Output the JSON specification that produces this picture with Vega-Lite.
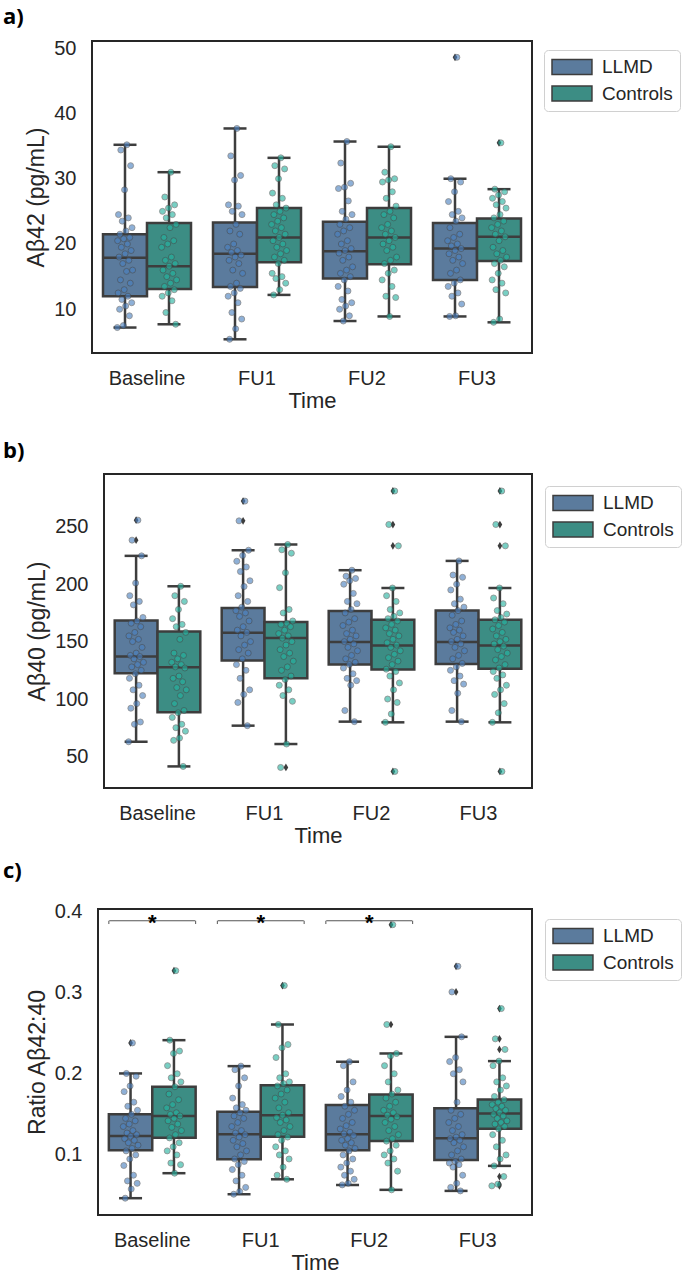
{
"$schema": "https://vega.github.io/schema/vega-lite/v6.json",
"padding": {"left": 1, "top": 5, "right": 0, "bottom": 0},
"background": "white",
"config": {
  "view": {"stroke": "#262626", "strokeWidth": 2},
  "font": "Liberation Sans",
  "axis": {"labelFont": "Liberation Sans", "labelFontSize": 20, "labelColor": "#262626", "titleFont": "Liberation Sans", "titleFontSize": 22, "titleFontWeight": "normal", "titleColor": "#262626", "ticks": false, "tickSize": 0, "domain": false, "grid": false},
  "axisX": {"labelAngle": 0, "labelPadding": 15, "titlePadding": 2},
  "axisY": {"labelPadding": 16, "titlePadding": 5, "titleFontSize": 23},
  "title": {"font": "Open Sans", "fontSize": 22, "fontWeight": "bold", "color": "#000000", "anchor": "start", "frame": "group"},
  "legend": {"title": null, "orient": "none", "symbolType": "M-1,-0.833H3.44V0.833H-1Z", "symbolSize": 324, "symbolStrokeColor": "#3d3d3d", "symbolStrokeWidth": 1.5, "labelFont": "Liberation Sans", "labelFontSize": 19, "labelColor": "#262626", "labelOffset": 31, "strokeColor": "#d0d0d0", "cornerRadius": 4, "padding": 7, "rowPadding": 4.5, "fillColor": "#ffffff", "symbolOpacity": 1}
},
"datasets": {
  "ba": [
    {"t":"Baseline","g":"LLMD","lo":7.2,"q1":12.0,"med":17.9,"q3":21.5,"hi":35.2},
    {"t":"Baseline","g":"Controls","lo":7.7,"q1":13.1,"med":16.6,"q3":23.2,"hi":31.0},
    {"t":"FU1","g":"LLMD","lo":5.4,"q1":13.4,"med":18.5,"q3":23.3,"hi":37.7},
    {"t":"FU1","g":"Controls","lo":12.2,"q1":17.2,"med":21.0,"q3":25.5,"hi":33.2},
    {"t":"FU2","g":"LLMD","lo":8.2,"q1":14.7,"med":18.9,"q3":23.4,"hi":35.7},
    {"t":"FU2","g":"Controls","lo":8.9,"q1":16.9,"med":21.0,"q3":25.5,"hi":34.9},
    {"t":"FU3","g":"LLMD","lo":8.9,"q1":14.5,"med":19.3,"q3":23.2,"hi":30.0},
    {"t":"FU3","g":"Controls","lo":8.0,"q1":17.4,"med":21.1,"q3":23.9,"hi":28.4}
  ],
  "oa": [
    {"t":"FU3","g":"LLMD","v":48.6},
    {"t":"FU3","g":"Controls","v":35.5}
  ],
  "bb": [
    {"t":"Baseline","g":"LLMD","lo":62.8,"q1":122.5,"med":137.0,"q3":168.5,"hi":224.7},
    {"t":"Baseline","g":"Controls","lo":41.3,"q1":88.4,"med":127.7,"q3":158.9,"hi":198.2},
    {"t":"FU1","g":"LLMD","lo":76.8,"q1":133.6,"med":157.7,"q3":179.3,"hi":229.6},
    {"t":"FU1","g":"Controls","lo":60.8,"q1":118.1,"med":153.1,"q3":167.0,"hi":234.6},
    {"t":"FU2","g":"LLMD","lo":80.3,"q1":130.1,"med":149.6,"q3":176.6,"hi":212.2},
    {"t":"FU2","g":"Controls","lo":79.7,"q1":125.7,"med":146.7,"q3":169.1,"hi":196.7},
    {"t":"FU3","g":"LLMD","lo":80.3,"q1":130.6,"med":149.6,"q3":177.2,"hi":220.3},
    {"t":"FU3","g":"Controls","lo":79.7,"q1":126.3,"med":146.7,"q3":169.1,"hi":196.7}
  ],
  "ob": [
    {"t":"Baseline","g":"LLMD","v":255.8},{"t":"Baseline","g":"LLMD","v":238.4},
    {"t":"FU1","g":"LLMD","v":272.4},{"t":"FU1","g":"LLMD","v":255.2},
    {"t":"FU1","g":"Controls","v":40.4},
    {"t":"FU2","g":"Controls","v":281.2},{"t":"FU2","g":"Controls","v":252.0},{"t":"FU2","g":"Controls","v":233.4},{"t":"FU2","g":"Controls","v":36.9},
    {"t":"FU3","g":"Controls","v":281.2},{"t":"FU3","g":"Controls","v":252.0},{"t":"FU3","g":"Controls","v":233.4},{"t":"FU3","g":"Controls","v":36.9}
  ],
  "bc": [
    {"t":"Baseline","g":"LLMD","lo":0.0467,"q1":0.1057,"med":0.1234,"q3":0.150,"hi":0.2004},
    {"t":"Baseline","g":"Controls","lo":0.0775,"q1":0.1213,"med":0.148,"q3":0.184,"hi":0.2414},
    {"t":"FU1","g":"LLMD","lo":0.0516,"q1":0.0947,"med":0.1254,"q3":0.1533,"hi":0.2094},
    {"t":"FU1","g":"Controls","lo":0.070,"q1":0.1225,"med":0.1488,"q3":0.186,"hi":0.2607},
    {"t":"FU2","g":"LLMD","lo":0.0631,"q1":0.1057,"med":0.1254,"q3":0.1615,"hi":0.2148},
    {"t":"FU2","g":"Controls","lo":0.057,"q1":0.1172,"med":0.148,"q3":0.1746,"hi":0.225},
    {"t":"FU3","g":"LLMD","lo":0.0557,"q1":0.0939,"med":0.1205,"q3":0.1574,"hi":0.2455},
    {"t":"FU3","g":"Controls","lo":0.0865,"q1":0.1324,"med":0.1512,"q3":0.1684,"hi":0.2156}
  ],
  "oc": [
    {"t":"Baseline","g":"LLMD","v":0.238},
    {"t":"Baseline","g":"Controls","v":0.327},
    {"t":"FU1","g":"Controls","v":0.3086},
    {"t":"FU2","g":"Controls","v":0.3836},{"t":"FU2","g":"Controls","v":0.2607},
    {"t":"FU3","g":"LLMD","v":0.3324},{"t":"FU3","g":"LLMD","v":0.3008},
    {"t":"FU3","g":"Controls","v":0.2803},{"t":"FU3","g":"Controls","v":0.243},{"t":"FU3","g":"Controls","v":0.230},
    {"t":"FU3","g":"Controls","v":0.0734},{"t":"FU3","g":"Controls","v":0.064},{"t":"FU3","g":"Controls","v":0.0619}
  ],
  "sig": [
    {"t":"Baseline","y":0.3885,"yb":0.3845,"lab":"*"},
    {"t":"FU1","y":0.3885,"yb":0.3845,"lab":"*"},
    {"t":"FU2","y":0.3885,"yb":0.3845,"lab":"*"}
  ],
  "pa": [
    {"t":"Baseline","g":"LLMD","v":35.2},{"t":"Baseline","g":"LLMD","v":34.4},{"t":"Baseline","g":"LLMD","v":32.0},{"t":"Baseline","g":"LLMD","v":28.3},{"t":"Baseline","g":"LLMD","v":24.5},{"t":"Baseline","g":"LLMD","v":24.0},{"t":"Baseline","g":"LLMD","v":23.5},{"t":"Baseline","g":"LLMD","v":22.5},{"t":"Baseline","g":"LLMD","v":22.0},{"t":"Baseline","g":"LLMD","v":21.5},{"t":"Baseline","g":"LLMD","v":21.0},{"t":"Baseline","g":"LLMD","v":20.8},{"t":"Baseline","g":"LLMD","v":20.5},{"t":"Baseline","g":"LLMD","v":20.0},{"t":"Baseline","g":"LLMD","v":19.5},{"t":"Baseline","g":"LLMD","v":19.0},{"t":"Baseline","g":"LLMD","v":18.5},{"t":"Baseline","g":"LLMD","v":18.0},{"t":"Baseline","g":"LLMD","v":17.5},{"t":"Baseline","g":"LLMD","v":17.0},{"t":"Baseline","g":"LLMD","v":16.0},{"t":"Baseline","g":"LLMD","v":15.8},{"t":"Baseline","g":"LLMD","v":14.5},{"t":"Baseline","g":"LLMD","v":14.0},{"t":"Baseline","g":"LLMD","v":13.0},{"t":"Baseline","g":"LLMD","v":12.5},{"t":"Baseline","g":"LLMD","v":12.0},{"t":"Baseline","g":"LLMD","v":11.5},{"t":"Baseline","g":"LLMD","v":11.0},{"t":"Baseline","g":"LLMD","v":10.5},{"t":"Baseline","g":"LLMD","v":10.0},{"t":"Baseline","g":"LLMD","v":9.0},{"t":"Baseline","g":"LLMD","v":7.5},{"t":"Baseline","g":"LLMD","v":7.2},
    {"t":"Baseline","g":"Controls","v":31.0},{"t":"Baseline","g":"Controls","v":27.2},{"t":"Baseline","g":"Controls","v":26.0},{"t":"Baseline","g":"Controls","v":25.5},{"t":"Baseline","g":"Controls","v":25.0},{"t":"Baseline","g":"Controls","v":24.5},{"t":"Baseline","g":"Controls","v":24.0},{"t":"Baseline","g":"Controls","v":23.0},{"t":"Baseline","g":"Controls","v":22.5},{"t":"Baseline","g":"Controls","v":21.0},{"t":"Baseline","g":"Controls","v":20.5},{"t":"Baseline","g":"Controls","v":20.0},{"t":"Baseline","g":"Controls","v":19.5},{"t":"Baseline","g":"Controls","v":18.0},{"t":"Baseline","g":"Controls","v":17.5},{"t":"Baseline","g":"Controls","v":17.0},{"t":"Baseline","g":"Controls","v":16.6},{"t":"Baseline","g":"Controls","v":16.0},{"t":"Baseline","g":"Controls","v":15.5},{"t":"Baseline","g":"Controls","v":15.0},{"t":"Baseline","g":"Controls","v":14.5},{"t":"Baseline","g":"Controls","v":14.0},{"t":"Baseline","g":"Controls","v":13.5},{"t":"Baseline","g":"Controls","v":13.0},{"t":"Baseline","g":"Controls","v":12.5},{"t":"Baseline","g":"Controls","v":12.0},{"t":"Baseline","g":"Controls","v":11.3},{"t":"Baseline","g":"Controls","v":9.5},{"t":"Baseline","g":"Controls","v":7.7},
    {"t":"FU1","g":"LLMD","v":37.7},{"t":"FU1","g":"LLMD","v":33.5},{"t":"FU1","g":"LLMD","v":30.5},{"t":"FU1","g":"LLMD","v":29.8},{"t":"FU1","g":"LLMD","v":26.0},{"t":"FU1","g":"LLMD","v":25.8},{"t":"FU1","g":"LLMD","v":25.0},{"t":"FU1","g":"LLMD","v":24.5},{"t":"FU1","g":"LLMD","v":23.0},{"t":"FU1","g":"LLMD","v":22.0},{"t":"FU1","g":"LLMD","v":21.5},{"t":"FU1","g":"LLMD","v":20.0},{"t":"FU1","g":"LLMD","v":19.5},{"t":"FU1","g":"LLMD","v":19.0},{"t":"FU1","g":"LLMD","v":18.7},{"t":"FU1","g":"LLMD","v":18.3},{"t":"FU1","g":"LLMD","v":18.0},{"t":"FU1","g":"LLMD","v":17.5},{"t":"FU1","g":"LLMD","v":17.0},{"t":"FU1","g":"LLMD","v":16.0},{"t":"FU1","g":"LLMD","v":15.5},{"t":"FU1","g":"LLMD","v":14.0},{"t":"FU1","g":"LLMD","v":13.5},{"t":"FU1","g":"LLMD","v":13.2},{"t":"FU1","g":"LLMD","v":12.5},{"t":"FU1","g":"LLMD","v":12.0},{"t":"FU1","g":"LLMD","v":11.0},{"t":"FU1","g":"LLMD","v":9.5},{"t":"FU1","g":"LLMD","v":8.5},{"t":"FU1","g":"LLMD","v":7.0},{"t":"FU1","g":"LLMD","v":5.4},
    {"t":"FU1","g":"Controls","v":33.2},{"t":"FU1","g":"Controls","v":32.0},{"t":"FU1","g":"Controls","v":31.5},{"t":"FU1","g":"Controls","v":30.0},{"t":"FU1","g":"Controls","v":27.8},{"t":"FU1","g":"Controls","v":27.0},{"t":"FU1","g":"Controls","v":26.0},{"t":"FU1","g":"Controls","v":25.5},{"t":"FU1","g":"Controls","v":25.0},{"t":"FU1","g":"Controls","v":24.5},{"t":"FU1","g":"Controls","v":24.0},{"t":"FU1","g":"Controls","v":23.5},{"t":"FU1","g":"Controls","v":23.0},{"t":"FU1","g":"Controls","v":22.5},{"t":"FU1","g":"Controls","v":22.0},{"t":"FU1","g":"Controls","v":21.5},{"t":"FU1","g":"Controls","v":21.0},{"t":"FU1","g":"Controls","v":20.5},{"t":"FU1","g":"Controls","v":20.0},{"t":"FU1","g":"Controls","v":19.5},{"t":"FU1","g":"Controls","v":19.0},{"t":"FU1","g":"Controls","v":18.5},{"t":"FU1","g":"Controls","v":18.0},{"t":"FU1","g":"Controls","v":17.5},{"t":"FU1","g":"Controls","v":17.0},{"t":"FU1","g":"Controls","v":15.5},{"t":"FU1","g":"Controls","v":15.0},{"t":"FU1","g":"Controls","v":14.7},{"t":"FU1","g":"Controls","v":14.0},{"t":"FU1","g":"Controls","v":13.0},{"t":"FU1","g":"Controls","v":12.2},
    {"t":"FU2","g":"LLMD","v":35.7},{"t":"FU2","g":"LLMD","v":32.4},{"t":"FU2","g":"LLMD","v":29.3},{"t":"FU2","g":"LLMD","v":28.7},{"t":"FU2","g":"LLMD","v":28.5},{"t":"FU2","g":"LLMD","v":26.6},{"t":"FU2","g":"LLMD","v":25.0},{"t":"FU2","g":"LLMD","v":24.5},{"t":"FU2","g":"LLMD","v":23.8},{"t":"FU2","g":"LLMD","v":23.0},{"t":"FU2","g":"LLMD","v":22.5},{"t":"FU2","g":"LLMD","v":22.0},{"t":"FU2","g":"LLMD","v":21.5},{"t":"FU2","g":"LLMD","v":20.5},{"t":"FU2","g":"LLMD","v":20.0},{"t":"FU2","g":"LLMD","v":19.3},{"t":"FU2","g":"LLMD","v":19.0},{"t":"FU2","g":"LLMD","v":18.6},{"t":"FU2","g":"LLMD","v":18.0},{"t":"FU2","g":"LLMD","v":17.5},{"t":"FU2","g":"LLMD","v":16.5},{"t":"FU2","g":"LLMD","v":16.0},{"t":"FU2","g":"LLMD","v":15.5},{"t":"FU2","g":"LLMD","v":15.0},{"t":"FU2","g":"LLMD","v":14.5},{"t":"FU2","g":"LLMD","v":13.5},{"t":"FU2","g":"LLMD","v":12.8},{"t":"FU2","g":"LLMD","v":11.5},{"t":"FU2","g":"LLMD","v":11.0},{"t":"FU2","g":"LLMD","v":10.5},{"t":"FU2","g":"LLMD","v":10.0},{"t":"FU2","g":"LLMD","v":9.0},{"t":"FU2","g":"LLMD","v":8.2},
    {"t":"FU2","g":"Controls","v":34.9},{"t":"FU2","g":"Controls","v":31.0},{"t":"FU2","g":"Controls","v":30.0},{"t":"FU2","g":"Controls","v":29.8},{"t":"FU2","g":"Controls","v":29.5},{"t":"FU2","g":"Controls","v":28.0},{"t":"FU2","g":"Controls","v":27.0},{"t":"FU2","g":"Controls","v":25.8},{"t":"FU2","g":"Controls","v":25.0},{"t":"FU2","g":"Controls","v":24.5},{"t":"FU2","g":"Controls","v":24.0},{"t":"FU2","g":"Controls","v":23.0},{"t":"FU2","g":"Controls","v":22.5},{"t":"FU2","g":"Controls","v":22.0},{"t":"FU2","g":"Controls","v":21.5},{"t":"FU2","g":"Controls","v":21.0},{"t":"FU2","g":"Controls","v":20.5},{"t":"FU2","g":"Controls","v":20.0},{"t":"FU2","g":"Controls","v":19.5},{"t":"FU2","g":"Controls","v":19.0},{"t":"FU2","g":"Controls","v":18.0},{"t":"FU2","g":"Controls","v":17.5},{"t":"FU2","g":"Controls","v":17.0},{"t":"FU2","g":"Controls","v":16.0},{"t":"FU2","g":"Controls","v":15.5},{"t":"FU2","g":"Controls","v":14.5},{"t":"FU2","g":"Controls","v":13.5},{"t":"FU2","g":"Controls","v":12.0},{"t":"FU2","g":"Controls","v":11.8},{"t":"FU2","g":"Controls","v":8.9},
    {"t":"FU3","g":"LLMD","v":48.6},{"t":"FU3","g":"LLMD","v":30.0},{"t":"FU3","g":"LLMD","v":29.5},{"t":"FU3","g":"LLMD","v":28.0},{"t":"FU3","g":"LLMD","v":26.5},{"t":"FU3","g":"LLMD","v":25.0},{"t":"FU3","g":"LLMD","v":24.5},{"t":"FU3","g":"LLMD","v":24.0},{"t":"FU3","g":"LLMD","v":23.5},{"t":"FU3","g":"LLMD","v":22.5},{"t":"FU3","g":"LLMD","v":21.5},{"t":"FU3","g":"LLMD","v":21.0},{"t":"FU3","g":"LLMD","v":20.5},{"t":"FU3","g":"LLMD","v":20.0},{"t":"FU3","g":"LLMD","v":19.7},{"t":"FU3","g":"LLMD","v":19.3},{"t":"FU3","g":"LLMD","v":19.0},{"t":"FU3","g":"LLMD","v":18.5},{"t":"FU3","g":"LLMD","v":18.0},{"t":"FU3","g":"LLMD","v":17.5},{"t":"FU3","g":"LLMD","v":17.0},{"t":"FU3","g":"LLMD","v":16.0},{"t":"FU3","g":"LLMD","v":15.5},{"t":"FU3","g":"LLMD","v":14.5},{"t":"FU3","g":"LLMD","v":14.0},{"t":"FU3","g":"LLMD","v":13.5},{"t":"FU3","g":"LLMD","v":12.5},{"t":"FU3","g":"LLMD","v":12.0},{"t":"FU3","g":"LLMD","v":10.8},{"t":"FU3","g":"LLMD","v":9.0},{"t":"FU3","g":"LLMD","v":8.9},
    {"t":"FU3","g":"Controls","v":35.5},{"t":"FU3","g":"Controls","v":28.4},{"t":"FU3","g":"Controls","v":28.0},{"t":"FU3","g":"Controls","v":27.5},{"t":"FU3","g":"Controls","v":27.0},{"t":"FU3","g":"Controls","v":26.5},{"t":"FU3","g":"Controls","v":26.0},{"t":"FU3","g":"Controls","v":25.5},{"t":"FU3","g":"Controls","v":24.5},{"t":"FU3","g":"Controls","v":24.0},{"t":"FU3","g":"Controls","v":23.5},{"t":"FU3","g":"Controls","v":23.0},{"t":"FU3","g":"Controls","v":22.5},{"t":"FU3","g":"Controls","v":22.0},{"t":"FU3","g":"Controls","v":21.5},{"t":"FU3","g":"Controls","v":21.1},{"t":"FU3","g":"Controls","v":20.5},{"t":"FU3","g":"Controls","v":19.5},{"t":"FU3","g":"Controls","v":19.0},{"t":"FU3","g":"Controls","v":18.5},{"t":"FU3","g":"Controls","v":18.0},{"t":"FU3","g":"Controls","v":17.5},{"t":"FU3","g":"Controls","v":17.0},{"t":"FU3","g":"Controls","v":16.5},{"t":"FU3","g":"Controls","v":15.5},{"t":"FU3","g":"Controls","v":14.5},{"t":"FU3","g":"Controls","v":14.0},{"t":"FU3","g":"Controls","v":13.0},{"t":"FU3","g":"Controls","v":12.5},{"t":"FU3","g":"Controls","v":8.5},{"t":"FU3","g":"Controls","v":8.0}
  ],
  "pb": [
    {"t":"Baseline","g":"LLMD","v":255.8},{"t":"Baseline","g":"LLMD","v":238.4},{"t":"Baseline","g":"LLMD","v":224.7},{"t":"Baseline","g":"LLMD","v":201},{"t":"Baseline","g":"LLMD","v":190},{"t":"Baseline","g":"LLMD","v":185},{"t":"Baseline","g":"LLMD","v":182},{"t":"Baseline","g":"LLMD","v":171},{"t":"Baseline","g":"LLMD","v":168},{"t":"Baseline","g":"LLMD","v":166},{"t":"Baseline","g":"LLMD","v":163},{"t":"Baseline","g":"LLMD","v":158},{"t":"Baseline","g":"LLMD","v":155},{"t":"Baseline","g":"LLMD","v":152},{"t":"Baseline","g":"LLMD","v":150},{"t":"Baseline","g":"LLMD","v":145},{"t":"Baseline","g":"LLMD","v":140},{"t":"Baseline","g":"LLMD","v":138},{"t":"Baseline","g":"LLMD","v":137},{"t":"Baseline","g":"LLMD","v":135},{"t":"Baseline","g":"LLMD","v":132},{"t":"Baseline","g":"LLMD","v":130},{"t":"Baseline","g":"LLMD","v":128},{"t":"Baseline","g":"LLMD","v":125},{"t":"Baseline","g":"LLMD","v":122},{"t":"Baseline","g":"LLMD","v":118},{"t":"Baseline","g":"LLMD","v":112},{"t":"Baseline","g":"LLMD","v":108},{"t":"Baseline","g":"LLMD","v":103},{"t":"Baseline","g":"LLMD","v":96},{"t":"Baseline","g":"LLMD","v":92},{"t":"Baseline","g":"LLMD","v":80},{"t":"Baseline","g":"LLMD","v":78},{"t":"Baseline","g":"LLMD","v":62.8},
    {"t":"Baseline","g":"Controls","v":198.2},{"t":"Baseline","g":"Controls","v":190},{"t":"Baseline","g":"Controls","v":185},{"t":"Baseline","g":"Controls","v":178},{"t":"Baseline","g":"Controls","v":170},{"t":"Baseline","g":"Controls","v":165},{"t":"Baseline","g":"Controls","v":163},{"t":"Baseline","g":"Controls","v":158},{"t":"Baseline","g":"Controls","v":152},{"t":"Baseline","g":"Controls","v":140},{"t":"Baseline","g":"Controls","v":138},{"t":"Baseline","g":"Controls","v":135},{"t":"Baseline","g":"Controls","v":132},{"t":"Baseline","g":"Controls","v":130},{"t":"Baseline","g":"Controls","v":128},{"t":"Baseline","g":"Controls","v":127},{"t":"Baseline","g":"Controls","v":120},{"t":"Baseline","g":"Controls","v":118},{"t":"Baseline","g":"Controls","v":115},{"t":"Baseline","g":"Controls","v":110},{"t":"Baseline","g":"Controls","v":108},{"t":"Baseline","g":"Controls","v":103},{"t":"Baseline","g":"Controls","v":96},{"t":"Baseline","g":"Controls","v":90},{"t":"Baseline","g":"Controls","v":88},{"t":"Baseline","g":"Controls","v":84},{"t":"Baseline","g":"Controls","v":78},{"t":"Baseline","g":"Controls","v":75},{"t":"Baseline","g":"Controls","v":72},{"t":"Baseline","g":"Controls","v":66},{"t":"Baseline","g":"Controls","v":64},{"t":"Baseline","g":"Controls","v":41.3},
    {"t":"FU1","g":"LLMD","v":272.4},{"t":"FU1","g":"LLMD","v":255.2},{"t":"FU1","g":"LLMD","v":229.6},{"t":"FU1","g":"LLMD","v":225},{"t":"FU1","g":"LLMD","v":220},{"t":"FU1","g":"LLMD","v":215},{"t":"FU1","g":"LLMD","v":211},{"t":"FU1","g":"LLMD","v":203},{"t":"FU1","g":"LLMD","v":198},{"t":"FU1","g":"LLMD","v":190},{"t":"FU1","g":"LLMD","v":185},{"t":"FU1","g":"LLMD","v":180},{"t":"FU1","g":"LLMD","v":177},{"t":"FU1","g":"LLMD","v":175},{"t":"FU1","g":"LLMD","v":172},{"t":"FU1","g":"LLMD","v":168},{"t":"FU1","g":"LLMD","v":163},{"t":"FU1","g":"LLMD","v":160},{"t":"FU1","g":"LLMD","v":158},{"t":"FU1","g":"LLMD","v":155},{"t":"FU1","g":"LLMD","v":150},{"t":"FU1","g":"LLMD","v":147},{"t":"FU1","g":"LLMD","v":143},{"t":"FU1","g":"LLMD","v":140},{"t":"FU1","g":"LLMD","v":135},{"t":"FU1","g":"LLMD","v":130},{"t":"FU1","g":"LLMD","v":125},{"t":"FU1","g":"LLMD","v":118},{"t":"FU1","g":"LLMD","v":108},{"t":"FU1","g":"LLMD","v":104},{"t":"FU1","g":"LLMD","v":97},{"t":"FU1","g":"LLMD","v":76.8},
    {"t":"FU1","g":"Controls","v":234.6},{"t":"FU1","g":"Controls","v":230},{"t":"FU1","g":"Controls","v":227},{"t":"FU1","g":"Controls","v":210},{"t":"FU1","g":"Controls","v":197},{"t":"FU1","g":"Controls","v":178},{"t":"FU1","g":"Controls","v":175},{"t":"FU1","g":"Controls","v":168},{"t":"FU1","g":"Controls","v":166},{"t":"FU1","g":"Controls","v":165},{"t":"FU1","g":"Controls","v":163},{"t":"FU1","g":"Controls","v":160},{"t":"FU1","g":"Controls","v":157},{"t":"FU1","g":"Controls","v":155},{"t":"FU1","g":"Controls","v":153},{"t":"FU1","g":"Controls","v":150},{"t":"FU1","g":"Controls","v":147},{"t":"FU1","g":"Controls","v":143},{"t":"FU1","g":"Controls","v":140},{"t":"FU1","g":"Controls","v":137},{"t":"FU1","g":"Controls","v":133},{"t":"FU1","g":"Controls","v":128},{"t":"FU1","g":"Controls","v":125},{"t":"FU1","g":"Controls","v":120},{"t":"FU1","g":"Controls","v":117},{"t":"FU1","g":"Controls","v":112},{"t":"FU1","g":"Controls","v":108},{"t":"FU1","g":"Controls","v":103},{"t":"FU1","g":"Controls","v":98},{"t":"FU1","g":"Controls","v":60.8},{"t":"FU1","g":"Controls","v":40.4},
    {"t":"FU2","g":"LLMD","v":212.2},{"t":"FU2","g":"LLMD","v":207},{"t":"FU2","g":"LLMD","v":205},{"t":"FU2","g":"LLMD","v":203},{"t":"FU2","g":"LLMD","v":200},{"t":"FU2","g":"LLMD","v":192},{"t":"FU2","g":"LLMD","v":185},{"t":"FU2","g":"LLMD","v":183},{"t":"FU2","g":"LLMD","v":178},{"t":"FU2","g":"LLMD","v":175},{"t":"FU2","g":"LLMD","v":170},{"t":"FU2","g":"LLMD","v":167},{"t":"FU2","g":"LLMD","v":164},{"t":"FU2","g":"LLMD","v":160},{"t":"FU2","g":"LLMD","v":157},{"t":"FU2","g":"LLMD","v":155},{"t":"FU2","g":"LLMD","v":152},{"t":"FU2","g":"LLMD","v":150},{"t":"FU2","g":"LLMD","v":148},{"t":"FU2","g":"LLMD","v":145},{"t":"FU2","g":"LLMD","v":142},{"t":"FU2","g":"LLMD","v":138},{"t":"FU2","g":"LLMD","v":135},{"t":"FU2","g":"LLMD","v":132},{"t":"FU2","g":"LLMD","v":130},{"t":"FU2","g":"LLMD","v":127},{"t":"FU2","g":"LLMD","v":122},{"t":"FU2","g":"LLMD","v":118},{"t":"FU2","g":"LLMD","v":116},{"t":"FU2","g":"LLMD","v":112},{"t":"FU2","g":"LLMD","v":90},{"t":"FU2","g":"LLMD","v":80.3},
    {"t":"FU2","g":"Controls","v":281.2},{"t":"FU2","g":"Controls","v":252.0},{"t":"FU2","g":"Controls","v":233.4},{"t":"FU2","g":"Controls","v":196.7},{"t":"FU2","g":"Controls","v":190},{"t":"FU2","g":"Controls","v":185},{"t":"FU2","g":"Controls","v":178},{"t":"FU2","g":"Controls","v":175},{"t":"FU2","g":"Controls","v":172},{"t":"FU2","g":"Controls","v":170},{"t":"FU2","g":"Controls","v":168},{"t":"FU2","g":"Controls","v":165},{"t":"FU2","g":"Controls","v":162},{"t":"FU2","g":"Controls","v":160},{"t":"FU2","g":"Controls","v":157},{"t":"FU2","g":"Controls","v":155},{"t":"FU2","g":"Controls","v":152},{"t":"FU2","g":"Controls","v":149},{"t":"FU2","g":"Controls","v":147},{"t":"FU2","g":"Controls","v":145},{"t":"FU2","g":"Controls","v":142},{"t":"FU2","g":"Controls","v":139},{"t":"FU2","g":"Controls","v":136},{"t":"FU2","g":"Controls","v":133},{"t":"FU2","g":"Controls","v":130},{"t":"FU2","g":"Controls","v":126},{"t":"FU2","g":"Controls","v":124},{"t":"FU2","g":"Controls","v":120},{"t":"FU2","g":"Controls","v":114},{"t":"FU2","g":"Controls","v":108},{"t":"FU2","g":"Controls","v":100},{"t":"FU2","g":"Controls","v":97},{"t":"FU2","g":"Controls","v":87},{"t":"FU2","g":"Controls","v":79.7},{"t":"FU2","g":"Controls","v":36.9},
    {"t":"FU3","g":"LLMD","v":220.3},{"t":"FU3","g":"LLMD","v":208},{"t":"FU3","g":"LLMD","v":206},{"t":"FU3","g":"LLMD","v":200},{"t":"FU3","g":"LLMD","v":195},{"t":"FU3","g":"LLMD","v":187},{"t":"FU3","g":"LLMD","v":183},{"t":"FU3","g":"LLMD","v":180},{"t":"FU3","g":"LLMD","v":177},{"t":"FU3","g":"LLMD","v":173},{"t":"FU3","g":"LLMD","v":168},{"t":"FU3","g":"LLMD","v":165},{"t":"FU3","g":"LLMD","v":162},{"t":"FU3","g":"LLMD","v":160},{"t":"FU3","g":"LLMD","v":158},{"t":"FU3","g":"LLMD","v":155},{"t":"FU3","g":"LLMD","v":152},{"t":"FU3","g":"LLMD","v":150},{"t":"FU3","g":"LLMD","v":148},{"t":"FU3","g":"LLMD","v":145},{"t":"FU3","g":"LLMD","v":142},{"t":"FU3","g":"LLMD","v":138},{"t":"FU3","g":"LLMD","v":135},{"t":"FU3","g":"LLMD","v":131},{"t":"FU3","g":"LLMD","v":128},{"t":"FU3","g":"LLMD","v":125},{"t":"FU3","g":"LLMD","v":120},{"t":"FU3","g":"LLMD","v":116},{"t":"FU3","g":"LLMD","v":113},{"t":"FU3","g":"LLMD","v":105},{"t":"FU3","g":"LLMD","v":90},{"t":"FU3","g":"LLMD","v":80.3},
    {"t":"FU3","g":"Controls","v":281.2},{"t":"FU3","g":"Controls","v":252.0},{"t":"FU3","g":"Controls","v":233.4},{"t":"FU3","g":"Controls","v":196.7},{"t":"FU3","g":"Controls","v":188},{"t":"FU3","g":"Controls","v":183},{"t":"FU3","g":"Controls","v":177},{"t":"FU3","g":"Controls","v":174},{"t":"FU3","g":"Controls","v":171},{"t":"FU3","g":"Controls","v":169},{"t":"FU3","g":"Controls","v":167},{"t":"FU3","g":"Controls","v":164},{"t":"FU3","g":"Controls","v":161},{"t":"FU3","g":"Controls","v":158},{"t":"FU3","g":"Controls","v":155},{"t":"FU3","g":"Controls","v":152},{"t":"FU3","g":"Controls","v":150},{"t":"FU3","g":"Controls","v":148},{"t":"FU3","g":"Controls","v":146},{"t":"FU3","g":"Controls","v":143},{"t":"FU3","g":"Controls","v":140},{"t":"FU3","g":"Controls","v":137},{"t":"FU3","g":"Controls","v":134},{"t":"FU3","g":"Controls","v":130},{"t":"FU3","g":"Controls","v":127},{"t":"FU3","g":"Controls","v":124},{"t":"FU3","g":"Controls","v":121},{"t":"FU3","g":"Controls","v":118},{"t":"FU3","g":"Controls","v":112},{"t":"FU3","g":"Controls","v":108},{"t":"FU3","g":"Controls","v":104},{"t":"FU3","g":"Controls","v":96},{"t":"FU3","g":"Controls","v":88},{"t":"FU3","g":"Controls","v":79.7},{"t":"FU3","g":"Controls","v":36.9}
  ],
  "pc": [
    {"t":"Baseline","g":"LLMD","v":0.238},{"t":"Baseline","g":"LLMD","v":0.2004},{"t":"Baseline","g":"LLMD","v":0.197},{"t":"Baseline","g":"LLMD","v":0.185},{"t":"Baseline","g":"LLMD","v":0.178},{"t":"Baseline","g":"LLMD","v":0.165},{"t":"Baseline","g":"LLMD","v":0.160},{"t":"Baseline","g":"LLMD","v":0.155},{"t":"Baseline","g":"LLMD","v":0.150},{"t":"Baseline","g":"LLMD","v":0.145},{"t":"Baseline","g":"LLMD","v":0.142},{"t":"Baseline","g":"LLMD","v":0.138},{"t":"Baseline","g":"LLMD","v":0.135},{"t":"Baseline","g":"LLMD","v":0.130},{"t":"Baseline","g":"LLMD","v":0.127},{"t":"Baseline","g":"LLMD","v":0.125},{"t":"Baseline","g":"LLMD","v":0.123},{"t":"Baseline","g":"LLMD","v":0.120},{"t":"Baseline","g":"LLMD","v":0.118},{"t":"Baseline","g":"LLMD","v":0.115},{"t":"Baseline","g":"LLMD","v":0.112},{"t":"Baseline","g":"LLMD","v":0.108},{"t":"Baseline","g":"LLMD","v":0.105},{"t":"Baseline","g":"LLMD","v":0.100},{"t":"Baseline","g":"LLMD","v":0.095},{"t":"Baseline","g":"LLMD","v":0.087},{"t":"Baseline","g":"LLMD","v":0.075},{"t":"Baseline","g":"LLMD","v":0.068},{"t":"Baseline","g":"LLMD","v":0.065},{"t":"Baseline","g":"LLMD","v":0.058},{"t":"Baseline","g":"LLMD","v":0.0467},
    {"t":"Baseline","g":"Controls","v":0.327},{"t":"Baseline","g":"Controls","v":0.2414},{"t":"Baseline","g":"Controls","v":0.228},{"t":"Baseline","g":"Controls","v":0.225},{"t":"Baseline","g":"Controls","v":0.210},{"t":"Baseline","g":"Controls","v":0.200},{"t":"Baseline","g":"Controls","v":0.195},{"t":"Baseline","g":"Controls","v":0.190},{"t":"Baseline","g":"Controls","v":0.184},{"t":"Baseline","g":"Controls","v":0.175},{"t":"Baseline","g":"Controls","v":0.168},{"t":"Baseline","g":"Controls","v":0.162},{"t":"Baseline","g":"Controls","v":0.158},{"t":"Baseline","g":"Controls","v":0.152},{"t":"Baseline","g":"Controls","v":0.150},{"t":"Baseline","g":"Controls","v":0.148},{"t":"Baseline","g":"Controls","v":0.145},{"t":"Baseline","g":"Controls","v":0.142},{"t":"Baseline","g":"Controls","v":0.138},{"t":"Baseline","g":"Controls","v":0.134},{"t":"Baseline","g":"Controls","v":0.130},{"t":"Baseline","g":"Controls","v":0.125},{"t":"Baseline","g":"Controls","v":0.121},{"t":"Baseline","g":"Controls","v":0.115},{"t":"Baseline","g":"Controls","v":0.110},{"t":"Baseline","g":"Controls","v":0.105},{"t":"Baseline","g":"Controls","v":0.100},{"t":"Baseline","g":"Controls","v":0.090},{"t":"Baseline","g":"Controls","v":0.088},{"t":"Baseline","g":"Controls","v":0.0775},
    {"t":"FU1","g":"LLMD","v":0.2094},{"t":"FU1","g":"LLMD","v":0.205},{"t":"FU1","g":"LLMD","v":0.195},{"t":"FU1","g":"LLMD","v":0.185},{"t":"FU1","g":"LLMD","v":0.170},{"t":"FU1","g":"LLMD","v":0.162},{"t":"FU1","g":"LLMD","v":0.158},{"t":"FU1","g":"LLMD","v":0.155},{"t":"FU1","g":"LLMD","v":0.152},{"t":"FU1","g":"LLMD","v":0.148},{"t":"FU1","g":"LLMD","v":0.145},{"t":"FU1","g":"LLMD","v":0.140},{"t":"FU1","g":"LLMD","v":0.135},{"t":"FU1","g":"LLMD","v":0.130},{"t":"FU1","g":"LLMD","v":0.127},{"t":"FU1","g":"LLMD","v":0.125},{"t":"FU1","g":"LLMD","v":0.122},{"t":"FU1","g":"LLMD","v":0.118},{"t":"FU1","g":"LLMD","v":0.114},{"t":"FU1","g":"LLMD","v":0.110},{"t":"FU1","g":"LLMD","v":0.105},{"t":"FU1","g":"LLMD","v":0.100},{"t":"FU1","g":"LLMD","v":0.095},{"t":"FU1","g":"LLMD","v":0.092},{"t":"FU1","g":"LLMD","v":0.088},{"t":"FU1","g":"LLMD","v":0.082},{"t":"FU1","g":"LLMD","v":0.075},{"t":"FU1","g":"LLMD","v":0.068},{"t":"FU1","g":"LLMD","v":0.060},{"t":"FU1","g":"LLMD","v":0.055},{"t":"FU1","g":"LLMD","v":0.0516},
    {"t":"FU1","g":"Controls","v":0.3086},{"t":"FU1","g":"Controls","v":0.2607},{"t":"FU1","g":"Controls","v":0.236},{"t":"FU1","g":"Controls","v":0.232},{"t":"FU1","g":"Controls","v":0.220},{"t":"FU1","g":"Controls","v":0.200},{"t":"FU1","g":"Controls","v":0.195},{"t":"FU1","g":"Controls","v":0.190},{"t":"FU1","g":"Controls","v":0.188},{"t":"FU1","g":"Controls","v":0.185},{"t":"FU1","g":"Controls","v":0.180},{"t":"FU1","g":"Controls","v":0.175},{"t":"FU1","g":"Controls","v":0.170},{"t":"FU1","g":"Controls","v":0.165},{"t":"FU1","g":"Controls","v":0.158},{"t":"FU1","g":"Controls","v":0.152},{"t":"FU1","g":"Controls","v":0.149},{"t":"FU1","g":"Controls","v":0.146},{"t":"FU1","g":"Controls","v":0.143},{"t":"FU1","g":"Controls","v":0.140},{"t":"FU1","g":"Controls","v":0.135},{"t":"FU1","g":"Controls","v":0.130},{"t":"FU1","g":"Controls","v":0.125},{"t":"FU1","g":"Controls","v":0.122},{"t":"FU1","g":"Controls","v":0.118},{"t":"FU1","g":"Controls","v":0.110},{"t":"FU1","g":"Controls","v":0.105},{"t":"FU1","g":"Controls","v":0.100},{"t":"FU1","g":"Controls","v":0.095},{"t":"FU1","g":"Controls","v":0.085},{"t":"FU1","g":"Controls","v":0.075},{"t":"FU1","g":"Controls","v":0.070},
    {"t":"FU2","g":"LLMD","v":0.2148},{"t":"FU2","g":"LLMD","v":0.210},{"t":"FU2","g":"LLMD","v":0.190},{"t":"FU2","g":"LLMD","v":0.180},{"t":"FU2","g":"LLMD","v":0.172},{"t":"FU2","g":"LLMD","v":0.165},{"t":"FU2","g":"LLMD","v":0.160},{"t":"FU2","g":"LLMD","v":0.155},{"t":"FU2","g":"LLMD","v":0.150},{"t":"FU2","g":"LLMD","v":0.145},{"t":"FU2","g":"LLMD","v":0.140},{"t":"FU2","g":"LLMD","v":0.136},{"t":"FU2","g":"LLMD","v":0.132},{"t":"FU2","g":"LLMD","v":0.128},{"t":"FU2","g":"LLMD","v":0.126},{"t":"FU2","g":"LLMD","v":0.124},{"t":"FU2","g":"LLMD","v":0.120},{"t":"FU2","g":"LLMD","v":0.118},{"t":"FU2","g":"LLMD","v":0.115},{"t":"FU2","g":"LLMD","v":0.112},{"t":"FU2","g":"LLMD","v":0.108},{"t":"FU2","g":"LLMD","v":0.105},{"t":"FU2","g":"LLMD","v":0.100},{"t":"FU2","g":"LLMD","v":0.095},{"t":"FU2","g":"LLMD","v":0.090},{"t":"FU2","g":"LLMD","v":0.085},{"t":"FU2","g":"LLMD","v":0.080},{"t":"FU2","g":"LLMD","v":0.075},{"t":"FU2","g":"LLMD","v":0.070},{"t":"FU2","g":"LLMD","v":0.065},{"t":"FU2","g":"LLMD","v":0.0631},
    {"t":"FU2","g":"Controls","v":0.3836},{"t":"FU2","g":"Controls","v":0.2607},{"t":"FU2","g":"Controls","v":0.225},{"t":"FU2","g":"Controls","v":0.222},{"t":"FU2","g":"Controls","v":0.210},{"t":"FU2","g":"Controls","v":0.200},{"t":"FU2","g":"Controls","v":0.190},{"t":"FU2","g":"Controls","v":0.180},{"t":"FU2","g":"Controls","v":0.175},{"t":"FU2","g":"Controls","v":0.170},{"t":"FU2","g":"Controls","v":0.165},{"t":"FU2","g":"Controls","v":0.160},{"t":"FU2","g":"Controls","v":0.155},{"t":"FU2","g":"Controls","v":0.152},{"t":"FU2","g":"Controls","v":0.149},{"t":"FU2","g":"Controls","v":0.147},{"t":"FU2","g":"Controls","v":0.144},{"t":"FU2","g":"Controls","v":0.140},{"t":"FU2","g":"Controls","v":0.135},{"t":"FU2","g":"Controls","v":0.130},{"t":"FU2","g":"Controls","v":0.125},{"t":"FU2","g":"Controls","v":0.120},{"t":"FU2","g":"Controls","v":0.117},{"t":"FU2","g":"Controls","v":0.112},{"t":"FU2","g":"Controls","v":0.105},{"t":"FU2","g":"Controls","v":0.100},{"t":"FU2","g":"Controls","v":0.095},{"t":"FU2","g":"Controls","v":0.090},{"t":"FU2","g":"Controls","v":0.080},{"t":"FU2","g":"Controls","v":0.057},
    {"t":"FU3","g":"LLMD","v":0.3324},{"t":"FU3","g":"LLMD","v":0.3008},{"t":"FU3","g":"LLMD","v":0.2455},{"t":"FU3","g":"LLMD","v":0.220},{"t":"FU3","g":"LLMD","v":0.215},{"t":"FU3","g":"LLMD","v":0.205},{"t":"FU3","g":"LLMD","v":0.200},{"t":"FU3","g":"LLMD","v":0.190},{"t":"FU3","g":"LLMD","v":0.165},{"t":"FU3","g":"LLMD","v":0.155},{"t":"FU3","g":"LLMD","v":0.150},{"t":"FU3","g":"LLMD","v":0.145},{"t":"FU3","g":"LLMD","v":0.140},{"t":"FU3","g":"LLMD","v":0.135},{"t":"FU3","g":"LLMD","v":0.130},{"t":"FU3","g":"LLMD","v":0.125},{"t":"FU3","g":"LLMD","v":0.122},{"t":"FU3","g":"LLMD","v":0.120},{"t":"FU3","g":"LLMD","v":0.118},{"t":"FU3","g":"LLMD","v":0.115},{"t":"FU3","g":"LLMD","v":0.110},{"t":"FU3","g":"LLMD","v":0.105},{"t":"FU3","g":"LLMD","v":0.100},{"t":"FU3","g":"LLMD","v":0.095},{"t":"FU3","g":"LLMD","v":0.092},{"t":"FU3","g":"LLMD","v":0.090},{"t":"FU3","g":"LLMD","v":0.088},{"t":"FU3","g":"LLMD","v":0.085},{"t":"FU3","g":"LLMD","v":0.075},{"t":"FU3","g":"LLMD","v":0.065},{"t":"FU3","g":"LLMD","v":0.060},{"t":"FU3","g":"LLMD","v":0.0557},
    {"t":"FU3","g":"Controls","v":0.2803},{"t":"FU3","g":"Controls","v":0.243},{"t":"FU3","g":"Controls","v":0.230},{"t":"FU3","g":"Controls","v":0.2156},{"t":"FU3","g":"Controls","v":0.210},{"t":"FU3","g":"Controls","v":0.195},{"t":"FU3","g":"Controls","v":0.190},{"t":"FU3","g":"Controls","v":0.185},{"t":"FU3","g":"Controls","v":0.180},{"t":"FU3","g":"Controls","v":0.172},{"t":"FU3","g":"Controls","v":0.168},{"t":"FU3","g":"Controls","v":0.165},{"t":"FU3","g":"Controls","v":0.162},{"t":"FU3","g":"Controls","v":0.160},{"t":"FU3","g":"Controls","v":0.157},{"t":"FU3","g":"Controls","v":0.155},{"t":"FU3","g":"Controls","v":0.152},{"t":"FU3","g":"Controls","v":0.150},{"t":"FU3","g":"Controls","v":0.148},{"t":"FU3","g":"Controls","v":0.145},{"t":"FU3","g":"Controls","v":0.142},{"t":"FU3","g":"Controls","v":0.140},{"t":"FU3","g":"Controls","v":0.138},{"t":"FU3","g":"Controls","v":0.135},{"t":"FU3","g":"Controls","v":0.132},{"t":"FU3","g":"Controls","v":0.125},{"t":"FU3","g":"Controls","v":0.118},{"t":"FU3","g":"Controls","v":0.110},{"t":"FU3","g":"Controls","v":0.100},{"t":"FU3","g":"Controls","v":0.095},{"t":"FU3","g":"Controls","v":0.0865},{"t":"FU3","g":"Controls","v":0.0734},{"t":"FU3","g":"Controls","v":0.064},{"t":"FU3","g":"Controls","v":0.0619}
  ]
},
"vconcat": [
  {
    "vconcat": [
      {"hconcat": [
      {"width": 1, "height": 1, "data": {"values": [{"z": 0}]}, "mark": {"type": "point", "opacity": 0, "size": 0, "strokeWidth": 0}, "encoding": {}, "view": {"stroke": null}},
      {
        "width": 440, "height": 312,
        "title": {"text": "a)", "dx": -89, "offset": 9},
        "resolve": {"scale": {"xOffset": "independent"}},
        "layer": [
          {"data": {"name": "ba"}, "mark": {"type": "rule", "color": "#3d3d3d", "strokeWidth": 2.5},
           "encoding": {
             "x": {"field": "t", "type": "nominal", "title": "Time", "sort": ["Baseline","FU1","FU2","FU3"], "scale": {"paddingInner": 0.2, "paddingOuter": 0.1}},
             "xOffset": {"field": "g", "type": "nominal", "scale": {"domain": ["LLMD","Controls"], "paddingInner": 0, "paddingOuter": 0}},
             "y": {"field": "lo", "type": "quantitative", "title": "Aβ42 (pg/mL)", "scale": {"domain": [3.3, 51.1], "nice": false, "zero": false}, "axis": {"values": [10,20,30,40,50]}},
             "y2": {"field": "hi"}}},
          {"data": {"name": "ba"}, "mark": {"type": "bar", "stroke": "#3d3d3d", "strokeWidth": 2.5},
           "encoding": {
             "x": {"field": "t", "type": "nominal", "title": "Time", "sort": ["Baseline","FU1","FU2","FU3"]},
             "xOffset": {"field": "g", "type": "nominal", "scale": {"domain": ["LLMD","Controls"], "paddingInner": 0, "paddingOuter": 0}},
             "y": {"field": "q1", "type": "quantitative", "title": "Aβ42 (pg/mL)"},
             "y2": {"field": "q3"},
             "fill": {"field": "g", "type": "nominal", "scale": {"domain": ["LLMD","Controls"], "range": ["#5b7b9d","#3c8d84"]},
               "legend": {"legendX": 543, "legendY": 9}}}},
          {"data": {"name": "ba"}, "mark": {"type": "tick", "color": "#3d3d3d", "thickness": 2.5, "size": 44, "orient": "horizontal", "opacity": 1},
           "encoding": {
             "x": {"field": "t", "type": "nominal", "title": "Time", "sort": ["Baseline","FU1","FU2","FU3"]},
             "xOffset": {"field": "g", "type": "nominal", "scale": {"domain": ["LLMD","Controls"], "paddingInner": 0, "paddingOuter": 0}},
             "y": {"field": "med", "type": "quantitative", "title": "Aβ42 (pg/mL)"}}},
          {"data": {"name": "ba"}, "mark": {"type": "tick", "color": "#3d3d3d", "thickness": 2.5, "size": 23, "orient": "horizontal", "opacity": 1},
           "encoding": {
             "x": {"field": "t", "type": "nominal", "title": "Time", "sort": ["Baseline","FU1","FU2","FU3"]},
             "xOffset": {"field": "g", "type": "nominal", "scale": {"domain": ["LLMD","Controls"], "paddingInner": 0, "paddingOuter": 0}},
             "y": {"field": "lo", "type": "quantitative", "title": "Aβ42 (pg/mL)"}}},
          {"data": {"name": "ba"}, "mark": {"type": "tick", "color": "#3d3d3d", "thickness": 2.5, "size": 23, "orient": "horizontal", "opacity": 1},
           "encoding": {
             "x": {"field": "t", "type": "nominal", "title": "Time", "sort": ["Baseline","FU1","FU2","FU3"]},
             "xOffset": {"field": "g", "type": "nominal", "scale": {"domain": ["LLMD","Controls"], "paddingInner": 0, "paddingOuter": 0}},
             "y": {"field": "hi", "type": "quantitative", "title": "Aβ42 (pg/mL)"}}},
          {"data": {"name": "oa"},
           "transform": [{"calculate": "datum.g === 'LLMD' ? -0.5 : 0.5", "as": "jx"}],
           "mark": {"type": "point", "shape": "M0,-1L0.6,0L0,1L-0.6,0Z", "filled": true, "color": "#3d3d3d", "size": 60, "opacity": 1},
           "encoding": {
             "x": {"field": "t", "type": "nominal", "title": "Time", "sort": ["Baseline","FU1","FU2","FU3"]},
             "xOffset": {"field": "jx", "type": "quantitative", "scale": {"domain": [-1, 1], "range": [0, 88]}},
             "y": {"field": "v", "type": "quantitative", "title": "Aβ42 (pg/mL)"}}},
          {"data": {"name": "pa"},
           "transform": [{"window": [{"op": "row_number", "as": "rn"}], "groupby": ["t","g"]}, {"calculate": "(datum.g === 'LLMD' ? -0.5 : 0.5) + ((datum.rn * 0.618034) % 1 - 0.5) * 0.36", "as": "jx"}],
           "mark": {"type": "circle", "size": 36, "opacity": 0.62, "stroke": "#454545", "strokeWidth": 0.8},
           "encoding": {
             "x": {"field": "t", "type": "nominal", "title": "Time", "sort": ["Baseline","FU1","FU2","FU3"]},
             "xOffset": {"field": "jx", "type": "quantitative", "scale": {"domain": [-1, 1], "range": [0, 88]}},
             "y": {"field": "v", "type": "quantitative", "title": "Aβ42 (pg/mL)"},
             "color": {"field": "g", "type": "nominal", "scale": {"domain": ["LLMD","Controls"], "range": ["#4a80c0","#25b3a0"]}, "legend": null}}}
        ]
      }], "spacing": 0},
      {"hconcat": [
      {"width": 1, "height": 1, "data": {"values": [{"z": 0}]}, "mark": {"type": "point", "opacity": 0, "size": 0, "strokeWidth": 0}, "encoding": {}, "view": {"stroke": null}},
      {
        "width": 428, "height": 314,
        "title": {"text": "b)", "dx": -101, "offset": 11},
        "resolve": {"scale": {"xOffset": "independent"}},
        "layer": [
          {"data": {"name": "bb"}, "mark": {"type": "rule", "color": "#3d3d3d", "strokeWidth": 2.5},
           "encoding": {
             "x": {"field": "t", "type": "nominal", "title": "Time", "sort": ["Baseline","FU1","FU2","FU3"], "scale": {"paddingInner": 0.2, "paddingOuter": 0.1}},
             "xOffset": {"field": "g", "type": "nominal", "scale": {"domain": ["LLMD","Controls"], "paddingInner": 0, "paddingOuter": 0}},
             "y": {"field": "lo", "type": "quantitative", "title": "Aβ40 (pg/mL)", "scale": {"domain": [22.5, 296], "nice": false, "zero": false}, "axis": {"values": [50,100,150,200,250]}},
             "y2": {"field": "hi"}}},
          {"data": {"name": "bb"}, "mark": {"type": "bar", "stroke": "#3d3d3d", "strokeWidth": 2.5},
           "encoding": {
             "x": {"field": "t", "type": "nominal", "title": "Time", "sort": ["Baseline","FU1","FU2","FU3"]},
             "xOffset": {"field": "g", "type": "nominal", "scale": {"domain": ["LLMD","Controls"], "paddingInner": 0, "paddingOuter": 0}},
             "y": {"field": "q1", "type": "quantitative", "title": "Aβ40 (pg/mL)"},
             "y2": {"field": "q3"},
             "fill": {"field": "g", "type": "nominal", "scale": {"domain": ["LLMD","Controls"], "range": ["#5b7b9d","#3c8d84"]},
               "legend": {"legendX": 544, "legendY": 12}}}},
          {"data": {"name": "bb"}, "mark": {"type": "tick", "color": "#3d3d3d", "thickness": 2.5, "size": 43, "orient": "horizontal", "opacity": 1},
           "encoding": {
             "x": {"field": "t", "type": "nominal", "title": "Time", "sort": ["Baseline","FU1","FU2","FU3"]},
             "xOffset": {"field": "g", "type": "nominal", "scale": {"domain": ["LLMD","Controls"], "paddingInner": 0, "paddingOuter": 0}},
             "y": {"field": "med", "type": "quantitative", "title": "Aβ40 (pg/mL)"}}},
          {"data": {"name": "bb"}, "mark": {"type": "tick", "color": "#3d3d3d", "thickness": 2.5, "size": 23, "orient": "horizontal", "opacity": 1},
           "encoding": {
             "x": {"field": "t", "type": "nominal", "title": "Time", "sort": ["Baseline","FU1","FU2","FU3"]},
             "xOffset": {"field": "g", "type": "nominal", "scale": {"domain": ["LLMD","Controls"], "paddingInner": 0, "paddingOuter": 0}},
             "y": {"field": "lo", "type": "quantitative", "title": "Aβ40 (pg/mL)"}}},
          {"data": {"name": "bb"}, "mark": {"type": "tick", "color": "#3d3d3d", "thickness": 2.5, "size": 23, "orient": "horizontal", "opacity": 1},
           "encoding": {
             "x": {"field": "t", "type": "nominal", "title": "Time", "sort": ["Baseline","FU1","FU2","FU3"]},
             "xOffset": {"field": "g", "type": "nominal", "scale": {"domain": ["LLMD","Controls"], "paddingInner": 0, "paddingOuter": 0}},
             "y": {"field": "hi", "type": "quantitative", "title": "Aβ40 (pg/mL)"}}},
          {"data": {"name": "ob"},
           "transform": [{"calculate": "datum.g === 'LLMD' ? -0.5 : 0.5", "as": "jx"}],
           "mark": {"type": "point", "shape": "M0,-1L0.6,0L0,1L-0.6,0Z", "filled": true, "color": "#3d3d3d", "size": 60, "opacity": 1},
           "encoding": {
             "x": {"field": "t", "type": "nominal", "title": "Time", "sort": ["Baseline","FU1","FU2","FU3"]},
             "xOffset": {"field": "jx", "type": "quantitative", "scale": {"domain": [-1, 1], "range": [0, 85.6]}},
             "y": {"field": "v", "type": "quantitative", "title": "Aβ40 (pg/mL)"}}},
          {"data": {"name": "pb"},
           "transform": [{"window": [{"op": "row_number", "as": "rn"}], "groupby": ["t","g"]}, {"calculate": "(datum.g === 'LLMD' ? -0.5 : 0.5) + ((datum.rn * 0.618034) % 1 - 0.5) * 0.36", "as": "jx"}],
           "mark": {"type": "circle", "size": 36, "opacity": 0.62, "stroke": "#454545", "strokeWidth": 0.8},
           "encoding": {
             "x": {"field": "t", "type": "nominal", "title": "Time", "sort": ["Baseline","FU1","FU2","FU3"]},
             "xOffset": {"field": "jx", "type": "quantitative", "scale": {"domain": [-1, 1], "range": [0, 85.6]}},
             "y": {"field": "v", "type": "quantitative", "title": "Aβ40 (pg/mL)"},
             "color": {"field": "g", "type": "nominal", "scale": {"domain": ["LLMD","Controls"], "range": ["#4a80c0","#25b3a0"]}, "legend": null}}}
        ]
      }], "spacing": 0}
    ],
    "spacing": 27,
    "resolve": {"scale": {"x": "independent", "y": "independent", "fill": "independent", "color": "independent", "xOffset": "independent"}}
  },
  {"hconcat": [
  {"width": 1, "height": 1, "data": {"values": [{"z": 0}]}, "mark": {"type": "point", "opacity": 0, "size": 0, "strokeWidth": 0}, "encoding": {}, "view": {"stroke": null}},
  {
    "width": 434, "height": 306,
    "title": {"text": "c)", "dx": -95, "offset": 18},
    "resolve": {"scale": {"xOffset": "independent"}},
    "layer": [
      {"data": {"name": "bc"}, "mark": {"type": "rule", "color": "#3d3d3d", "strokeWidth": 2.5},
       "encoding": {
         "x": {"field": "t", "type": "nominal", "title": "Time", "sort": ["Baseline","FU1","FU2","FU3"], "scale": {"paddingInner": 0.2, "paddingOuter": 0.1}},
         "xOffset": {"field": "g", "type": "nominal", "scale": {"domain": ["LLMD","Controls"], "paddingInner": 0, "paddingOuter": 0}},
         "y": {"field": "lo", "type": "quantitative", "title": "Ratio Aβ42:40", "scale": {"domain": [0.026, 0.403], "nice": false, "zero": false}, "axis": {"values": [0.1,0.2,0.3,0.4], "format": ".1f"}},
         "y2": {"field": "hi"}}},
      {"data": {"name": "bc"}, "mark": {"type": "bar", "stroke": "#3d3d3d", "strokeWidth": 2.5},
       "encoding": {
         "x": {"field": "t", "type": "nominal", "title": "Time", "sort": ["Baseline","FU1","FU2","FU3"]},
         "xOffset": {"field": "g", "type": "nominal", "scale": {"domain": ["LLMD","Controls"], "paddingInner": 0, "paddingOuter": 0}},
         "y": {"field": "q1", "type": "quantitative", "title": "Ratio Aβ42:40"},
         "y2": {"field": "q3"},
         "fill": {"field": "g", "type": "nominal", "scale": {"domain": ["LLMD","Controls"], "range": ["#5b7b9d","#3c8d84"]},
           "legend": {"legendX": 544, "legendY": 10}}}},
      {"data": {"name": "bc"}, "mark": {"type": "tick", "color": "#3d3d3d", "thickness": 2.5, "size": 43, "orient": "horizontal", "opacity": 1},
       "encoding": {
         "x": {"field": "t", "type": "nominal", "title": "Time", "sort": ["Baseline","FU1","FU2","FU3"]},
         "xOffset": {"field": "g", "type": "nominal", "scale": {"domain": ["LLMD","Controls"], "paddingInner": 0, "paddingOuter": 0}},
         "y": {"field": "med", "type": "quantitative", "title": "Ratio Aβ42:40"}}},
      {"data": {"name": "bc"}, "mark": {"type": "tick", "color": "#3d3d3d", "thickness": 2.5, "size": 23, "orient": "horizontal", "opacity": 1},
       "encoding": {
         "x": {"field": "t", "type": "nominal", "title": "Time", "sort": ["Baseline","FU1","FU2","FU3"]},
         "xOffset": {"field": "g", "type": "nominal", "scale": {"domain": ["LLMD","Controls"], "paddingInner": 0, "paddingOuter": 0}},
         "y": {"field": "lo", "type": "quantitative", "title": "Ratio Aβ42:40"}}},
      {"data": {"name": "bc"}, "mark": {"type": "tick", "color": "#3d3d3d", "thickness": 2.5, "size": 23, "orient": "horizontal", "opacity": 1},
       "encoding": {
         "x": {"field": "t", "type": "nominal", "title": "Time", "sort": ["Baseline","FU1","FU2","FU3"]},
         "xOffset": {"field": "g", "type": "nominal", "scale": {"domain": ["LLMD","Controls"], "paddingInner": 0, "paddingOuter": 0}},
         "y": {"field": "hi", "type": "quantitative", "title": "Ratio Aβ42:40"}}},
      {"data": {"name": "oc"},
       "transform": [{"calculate": "datum.g === 'LLMD' ? -0.5 : 0.5", "as": "jx"}],
       "mark": {"type": "point", "shape": "M0,-1L0.6,0L0,1L-0.6,0Z", "filled": true, "color": "#3d3d3d", "size": 60, "opacity": 1},
       "encoding": {
         "x": {"field": "t", "type": "nominal", "title": "Time", "sort": ["Baseline","FU1","FU2","FU3"]},
         "xOffset": {"field": "jx", "type": "quantitative", "scale": {"domain": [-1, 1], "range": [0, 86.8]}},
         "y": {"field": "v", "type": "quantitative", "title": "Ratio Aβ42:40"}}},
      {"data": {"name": "pc"},
       "transform": [{"window": [{"op": "row_number", "as": "rn"}], "groupby": ["t","g"]}, {"calculate": "(datum.g === 'LLMD' ? -0.5 : 0.5) + ((datum.rn * 0.618034) % 1 - 0.5) * 0.36", "as": "jx"}],
       "mark": {"type": "circle", "size": 36, "opacity": 0.62, "stroke": "#454545", "strokeWidth": 0.8},
       "encoding": {
         "x": {"field": "t", "type": "nominal", "title": "Time", "sort": ["Baseline","FU1","FU2","FU3"]},
         "xOffset": {"field": "jx", "type": "quantitative", "scale": {"domain": [-1, 1], "range": [0, 86.8]}},
         "y": {"field": "v", "type": "quantitative", "title": "Ratio Aβ42:40"},
         "color": {"field": "g", "type": "nominal", "scale": {"domain": ["LLMD","Controls"], "range": ["#4a80c0","#25b3a0"]}, "legend": null}}},
      {"data": {"name": "sig"}, "mark": {"type": "tick", "color": "#555555", "thickness": 1, "size": 86, "orient": "horizontal", "opacity": 1},
       "encoding": {
         "x": {"field": "t", "type": "nominal", "title": "Time", "sort": ["Baseline","FU1","FU2","FU3"]},
         "y": {"field": "y", "type": "quantitative", "title": "Ratio Aβ42:40"}}},
      {"data": {"name": "sig"}, "mark": {"type": "rule", "color": "#555555", "strokeWidth": 1},
       "encoding": {
         "x": {"field": "t", "type": "nominal", "title": "Time", "sort": ["Baseline","FU1","FU2","FU3"], "bandPosition": 0},
         "y": {"field": "y", "type": "quantitative", "title": "Ratio Aβ42:40"}, "y2": {"field": "yb"}}},
      {"data": {"name": "sig"}, "mark": {"type": "rule", "color": "#555555", "strokeWidth": 1},
       "encoding": {
         "x": {"field": "t", "type": "nominal", "title": "Time", "sort": ["Baseline","FU1","FU2","FU3"], "bandPosition": 1},
         "y": {"field": "y", "type": "quantitative", "title": "Ratio Aβ42:40"}, "y2": {"field": "yb"}}},
      {"data": {"name": "sig"}, "mark": {"type": "text", "font": "Liberation Sans", "fontSize": 22, "fontWeight": "bold", "color": "#000000", "baseline": "alphabetic", "dy": 9},
       "encoding": {
         "x": {"field": "t", "type": "nominal", "title": "Time", "sort": ["Baseline","FU1","FU2","FU3"]},
         "y": {"field": "y", "type": "quantitative", "title": "Ratio Aβ42:40"},
         "text": {"field": "lab"}}}
    ]
  }], "spacing": 0}
],
"spacing": 12,
"resolve": {"scale": {"x": "independent", "y": "independent", "fill": "independent", "color": "independent", "xOffset": "independent"}}
}
